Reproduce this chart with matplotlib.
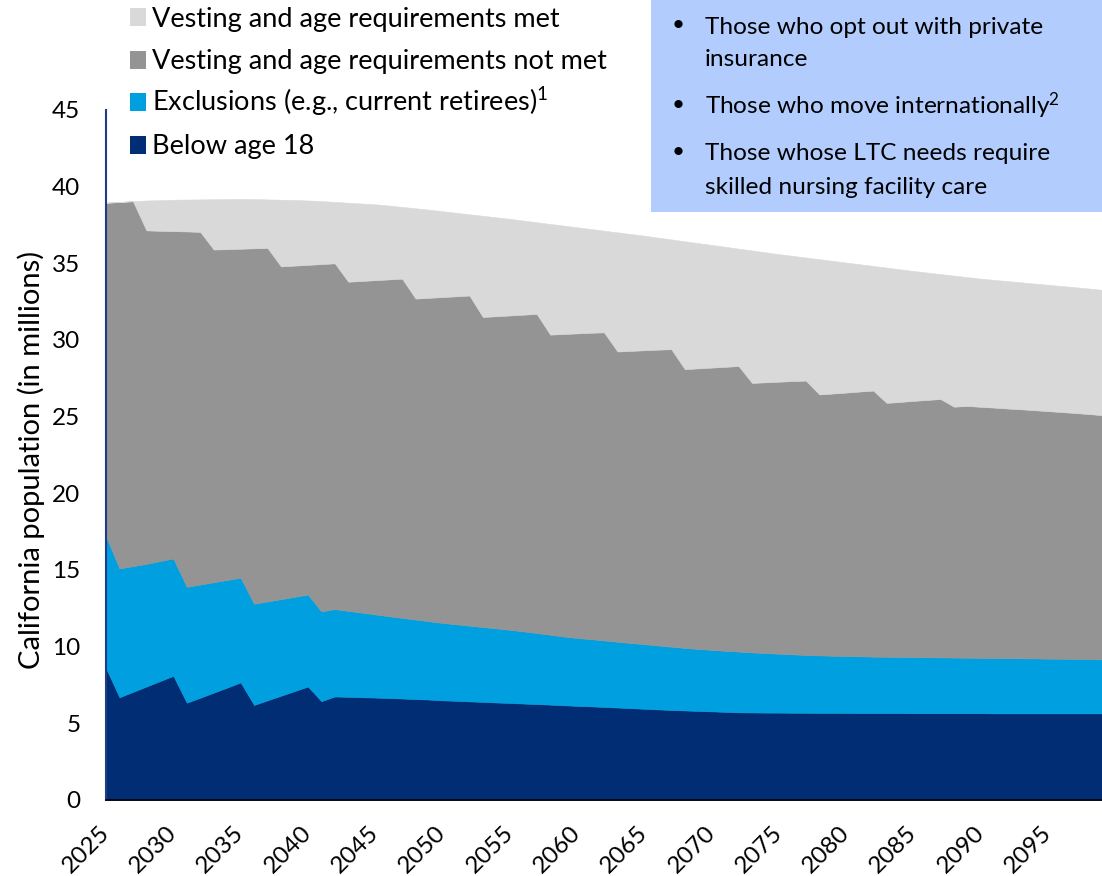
import numpy as np
import matplotlib
matplotlib.use("Agg")
import matplotlib.pyplot as plt
from matplotlib.patches import Rectangle
import matplotlib.transforms as mtransforms

plt.rcParams['font.family'] = ['Lato', 'DejaVu Sans']
plt.rcParams['mathtext.fontset'] = 'custom'
plt.rcParams['mathtext.rm'] = 'Lato'
plt.rcParams['mathtext.default'] = 'regular'

years = list(range(2025, 2100))
tick_years = list(range(2025, 2100, 5))

below_18 = [8.6, 6.7, 7.05, 7.4, 7.75, 8.1, 6.35, 6.67, 7.0, 7.33,
            7.67, 6.2, 6.5, 6.8, 7.1, 7.4, 6.45, 6.75, 6.73, 6.7,
            6.68, 6.65, 6.62, 6.58, 6.55, 6.5, 6.47, 6.43, 6.4, 6.36,
            6.33, 6.29, 6.26, 6.22, 6.18, 6.14, 6.11, 6.07, 6.03, 5.99,
            5.95, 5.91, 5.87, 5.84, 5.81, 5.78, 5.75, 5.72, 5.71, 5.7,
            5.7, 5.69, 5.69, 5.68, 5.68, 5.68, 5.67, 5.67, 5.67, 5.67,
            5.66, 5.66, 5.66, 5.66, 5.66, 5.66, 5.65, 5.65, 5.65, 5.65,
            5.65, 5.65, 5.65, 5.65, 5.65]

exclusions = [8.6, 8.4, 8.2, 8.0, 7.83, 7.65, 7.55, 7.38, 7.2, 7.02,
              6.83, 6.6, 6.45, 6.3, 6.15, 6.0, 5.85, 5.7, 5.6, 5.52,
              5.42, 5.34, 5.26, 5.19, 5.11, 5.05, 4.99, 4.94, 4.88, 4.83,
              4.77, 4.71, 4.63, 4.56, 4.48, 4.43, 4.38, 4.34, 4.29, 4.25,
              4.21, 4.17, 4.13, 4.08, 4.04, 4.01, 3.98, 3.96, 3.92, 3.88,
              3.84, 3.81, 3.77, 3.75, 3.73, 3.71, 3.70, 3.68, 3.67, 3.66,
              3.66, 3.65, 3.64, 3.63, 3.62, 3.61, 3.61, 3.60, 3.59, 3.58,
              3.57, 3.56, 3.55, 3.54, 3.52]

not_met = [21.75, 23.9, 23.8, 21.75, 21.54, 21.35, 23.18, 23.0, 21.7, 21.57,
           21.45, 23.18, 23.05, 21.7, 21.6, 21.5, 22.65, 22.55, 21.47, 21.63,
           21.8, 21.96, 22.12, 20.93, 21.09, 21.25, 21.39, 21.53, 20.22, 20.36,
           20.5, 20.65, 20.81, 19.57, 19.73, 19.86, 19.98, 20.09, 18.93, 19.05,
           19.17, 19.29, 19.4, 18.18, 18.3, 18.41, 18.52, 18.62, 17.57, 17.66,
           17.74, 17.82, 17.89, 17.02, 17.1, 17.18, 17.27, 17.35, 16.56, 16.63,
           16.71, 16.78, 16.85, 16.36, 16.42, 16.37, 16.33, 16.28, 16.24, 16.19,
           16.14, 16.09, 16.04, 15.98, 15.93]

met = [0.0, 0.0, 0.0, 1.95, 2.0, 2.05, 2.08, 2.12, 3.28, 3.27,
       3.25, 3.21, 3.17, 4.35, 4.28, 4.2, 4.11, 4.01, 5.15, 5.05,
       4.95, 4.82, 4.68, 5.89, 5.75, 5.6, 5.45, 5.3, 6.6, 6.45,
       6.3, 6.14, 5.98, 7.22, 7.07, 6.92, 6.77, 6.63, 7.77, 7.62,
       7.47, 7.31, 7.16, 8.34, 8.17, 8.0, 7.83, 7.66, 8.64, 8.48,
       8.32, 8.17, 8.03, 8.82, 8.65, 8.48, 8.3, 8.13, 8.82, 8.65,
       8.47, 8.31, 8.15, 8.55, 8.4, 8.36, 8.33, 8.31, 8.28, 8.26,
       8.24, 8.22, 8.2, 8.19, 8.17]

labels = ["Below age 18",
          "Exclusions (e.g., current retirees)$^{1}$",
          "Vesting and age requirements not met",
          "Vesting and age requirements met"]
colors = ["#002D74", "#009FDF", "#949494", "#D9D9D9"]

# (text, has bullet)
box_lines = [("Those who opt out with private", True),
             ("insurance", False),
             ("Those who move internationally$^{2}$", True),
             ("Those whose LTC needs require", True),
             ("skilled nursing facility care", False)]
box_line_y = [25, 57, 105, 152, 185]

W, H = 1102, 876
fig = plt.figure(figsize=(W / 100, H / 100), dpi=100)
ax = fig.add_axes([106 / W, 1 - 800 / H, 996 / W, 690 / H])

polys = ax.stackplot(years, below_18, exclusions, not_met, met,
                     colors=colors, labels=labels, linewidth=0.4)
for p, c in zip(polys, colors):
    p.set_edgecolor(c)

ax.set_xlim(years[0], years[-1])
ax.set_ylim(0, 45)
ax.set_yticks(range(0, 46, 5))
ax.set_xticks(tick_years)
ax.set_xticklabels([str(y) for y in tick_years], rotation=45,
                   ha='right', va='center', rotation_mode='anchor')
offset = mtransforms.ScaledTranslation(19 / 100, 0, fig.dpi_scale_trans)
for lbl in ax.get_xticklabels():
    lbl.set_transform(lbl.get_transform() + offset)

ax.tick_params(axis='both', length=0, labelsize=17.5, colors='black')
ax.tick_params(axis='y', pad=18.5)
ax.tick_params(axis='x', pad=21)
for s in ['top', 'right']:
    ax.spines[s].set_visible(False)
ax.spines['left'].set_color('#1F3C88')
ax.spines['left'].set_linewidth(1.5)
ax.spines['bottom'].set_color('black')
ax.spines['bottom'].set_linewidth(1.2)

ax.set_ylabel("California population (in millions)", fontsize=21, va='center')
ax.yaxis.set_label_coords(-(106 - 31) / 996, (800 - 460) / 690)

# legend (top-to-bottom: reverse of stacking order)
for i, (lab, col) in enumerate(zip(labels[::-1], colors[::-1])):
    yc = 17 + 42.5 * i
    fig.patches.append(Rectangle((130 / W, 1 - (yc + 9) / H), 16 / W, 18 / H,
                                 transform=fig.transFigure, facecolor=col,
                                 edgecolor='none'))
    fig.text(152 / W, 1 - (yc + 9.5) / H, lab, fontsize=19.5,
             va='baseline', ha='left')

fig.patches.append(Rectangle((651 / W, 1 - 212 / H), 1 - 651 / W, 212 / H,
                             transform=fig.transFigure, facecolor='#B2CCFE',
                             edgecolor='none', zorder=5))
for (t, bullet), yy in zip(box_lines, box_line_y):
    if bullet:
        fig.text(672 / W, 1 - yy / H, "\u2022", fontsize=16, va='center',
                 ha='left', zorder=6)
    fig.text(705 / W, 1 - (yy + 8.5) / H, t, fontsize=17.6, va='baseline',
             ha='left', zorder=6)

fig.savefig("out.png", dpi=100)
